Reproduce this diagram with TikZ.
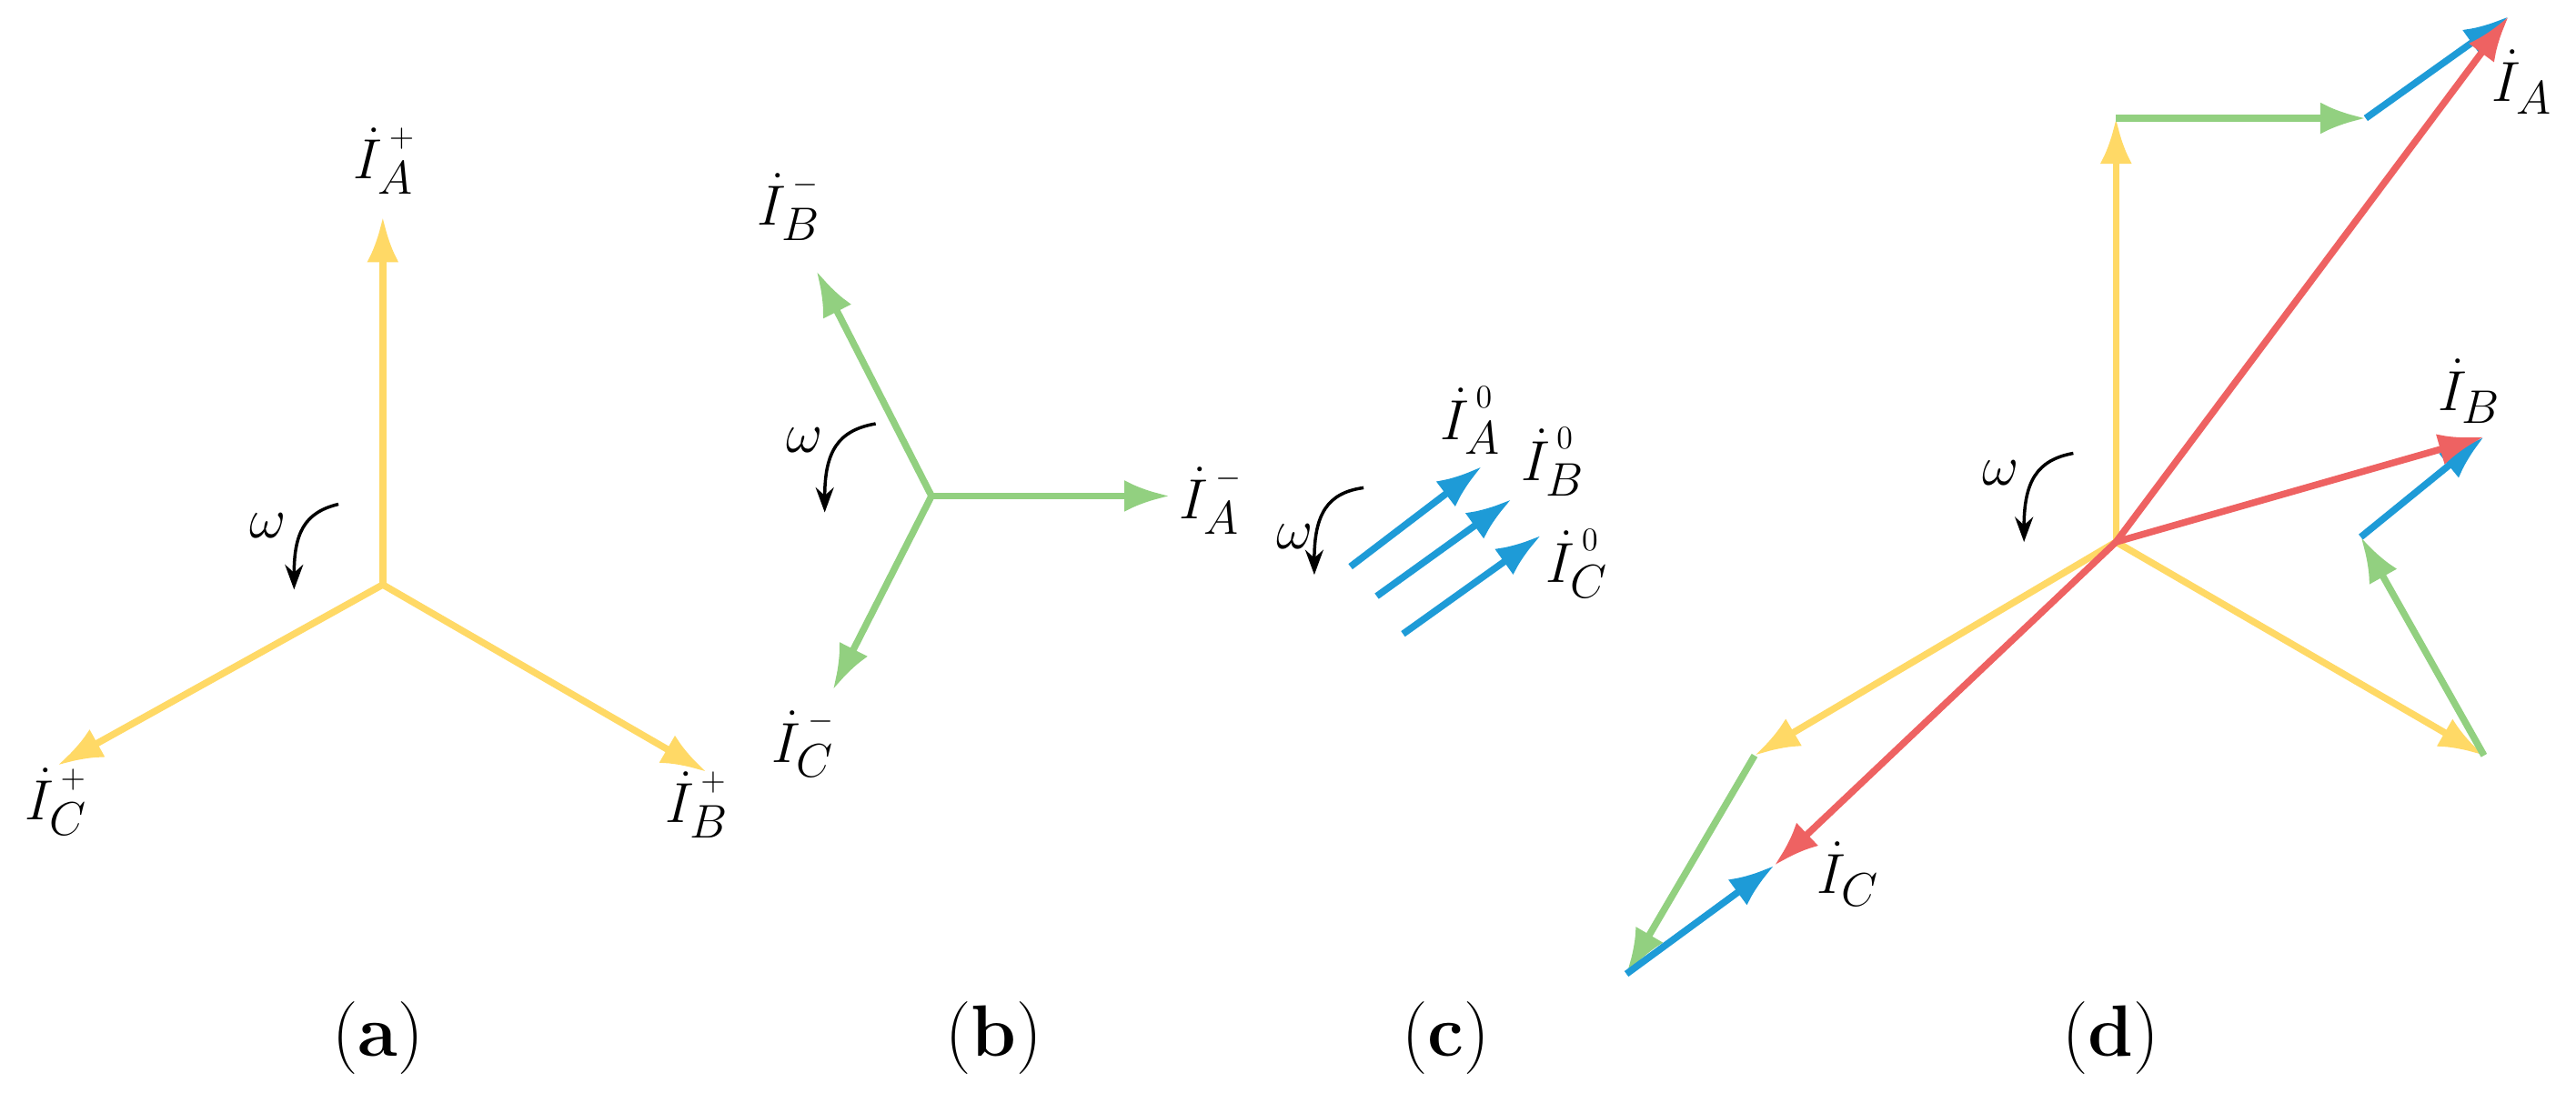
\documentclass[tikz,border=0pt]{standalone}
\usetikzlibrary{arrows.meta}
\definecolor{cy}{RGB}{255,217,102}
\definecolor{cg}{RGB}{146,208,128}
\definecolor{cb}{RGB}{30,155,215}
\definecolor{cr}{RGB}{238,98,98}
\newcommand{\Lb}[2]{\dot I_{#1}^{\hspace{3pt}\raisebox{5pt}{$\scriptscriptstyle #2$}}}
\begin{document}
\begin{tikzpicture}[x=0.0254cm,y=-0.0254cm,
 vec/.style={line width=3pt,-{Latex[length=20pt,width=14pt]}},
 lab/.style={font=\fontsize{31}{36}\selectfont,inner sep=0pt},
 om/.style={line width=1.4pt,-{Stealth[length=11pt,width=8pt]}},
 sublab/.style={font=\fontsize{32}{38}\selectfont}]
\useasboundingbox (0,0) rectangle (1568,665);
% (a)
\coordinate (oa) at (233,356);
\coordinate (aA) at (233,132); \coordinate (aB) at (430,470); \coordinate (aC) at (35,466);
\draw[vec,cy] (oa) -- (aA); \draw[vec,cy] (oa) -- (aB); \draw[vec,cy] (oa) -- (aC);
\node[lab] (lA) at (234,98) {$\Lb{A}{+}$};
\node[lab] (lC) at (34,488) {$\Lb{C}{+}$};
\node[lab] (lB) at (424,490) {$\Lb{B}{+}$};
\node[lab] (wa) at (163,320) {$\omega$};
\coordinate (wa1) at (206,307); \coordinate (wa2) at (179,359);
\draw[om] (wa1) .. controls (185,312) and (179,325) .. (wa2);
\node[sublab] (ca) at (230,632) {(\textbf{a})};
% (b)
\coordinate (ob) at (567,302);
\coordinate (bA) at (712,302); \coordinate (bB) at (497,165); \coordinate (bC) at (507,420);
\draw[vec,cg] (ob) -- (bA); \draw[vec,cg] (ob) -- (bB); \draw[vec,cg] (ob) -- (bC);
\node[lab] (lbA) at (737,305) {$\Lb{A}{-}$};
\node[lab] (lbB) at (480,126) {$\Lb{B}{-}$};
\node[lab] (lbC) at (489,453) {$\Lb{C}{-}$};
\node[lab] (wb) at (490,268) {$\omega$};
\coordinate (wb1) at (533,258); \coordinate (wb2) at (502,312);
\draw[om] (wb1) .. controls (510,262) and (502,275) .. (wb2);
\node[sublab] (cb) at (605,632) {(\textbf{b})};
% (c)
\coordinate (c1s) at (822,345); \coordinate (c1e) at (902,284);
\coordinate (c2s) at (838,363); \coordinate (c2e) at (920,304);
\coordinate (c3s) at (854,386); \coordinate (c3e) at (938,326);
\draw[vec,cb] (c1s) -- (c1e); \draw[vec,cb] (c2s) -- (c2e); \draw[vec,cb] (c3s) -- (c3e);
\node[lab] (lcA) at (895,256) {$\Lb{A}{0}$};
\node[lab] (lcB) at (945,281) {$\Lb{B}{0}$};
\node[lab] (lcC) at (960,343) {$\Lb{C}{0}$};
\node[lab] (wc) at (788,327) {$\omega$};
\coordinate (wc1) at (830,297); \coordinate (wc2) at (800,350);
\draw[om] (wc1) .. controls (808,300) and (800,313) .. (wc2);
\node[sublab] (cc) at (880,632) {(\textbf{c})};
% (d)
\coordinate (od) at (1288,330);
\coordinate (dyA) at (1288,72); \coordinate (dgA) at (1440,72); \coordinate (dA) at (1527,10);
\coordinate (dyB) at (1512,460); \coordinate (dgB) at (1437,327); \coordinate (dB) at (1512,266);
\coordinate (dyC) at (1068,460); \coordinate (dgC) at (990,593); \coordinate (dC) at (1080,527);
\draw[vec,cy] (od) -- (dyA); \draw[vec,cy] (od) -- (dyB); \draw[vec,cy] (od) -- (dyC);
\draw[vec,cg] (dyA) -- (dgA); \draw[vec,cg] (dyB) -- (dgB); \draw[vec,cg] (dyC) -- (dgC);
\draw[vec,cb] (dgA) -- (dA); \draw[vec,cb] (dgB) -- (dB); \draw[vec,cb] (dgC) -- (dC);
\draw[vec,cr] (od) -- (dA); \draw[vec,cr] (od) -- (dB); \draw[vec,cr] (od) -- (dC);
\node[lab] (ldA) at (1535,50) {$\dot I_A$};
\node[lab] (ldB) at (1503,238) {$\dot I_B$};
\node[lab] (ldC) at (1125,532) {$\dot I_C$};
\node[lab] (wd) at (1218,288) {$\omega$};
\coordinate (wd1) at (1262,276); \coordinate (wd2) at (1232,330);
\draw[om] (wd1) .. controls (1240,280) and (1232,293) .. (wd2);
\node[sublab] (cd) at (1285,632) {(\textbf{d})};
\end{tikzpicture}
\end{document}
